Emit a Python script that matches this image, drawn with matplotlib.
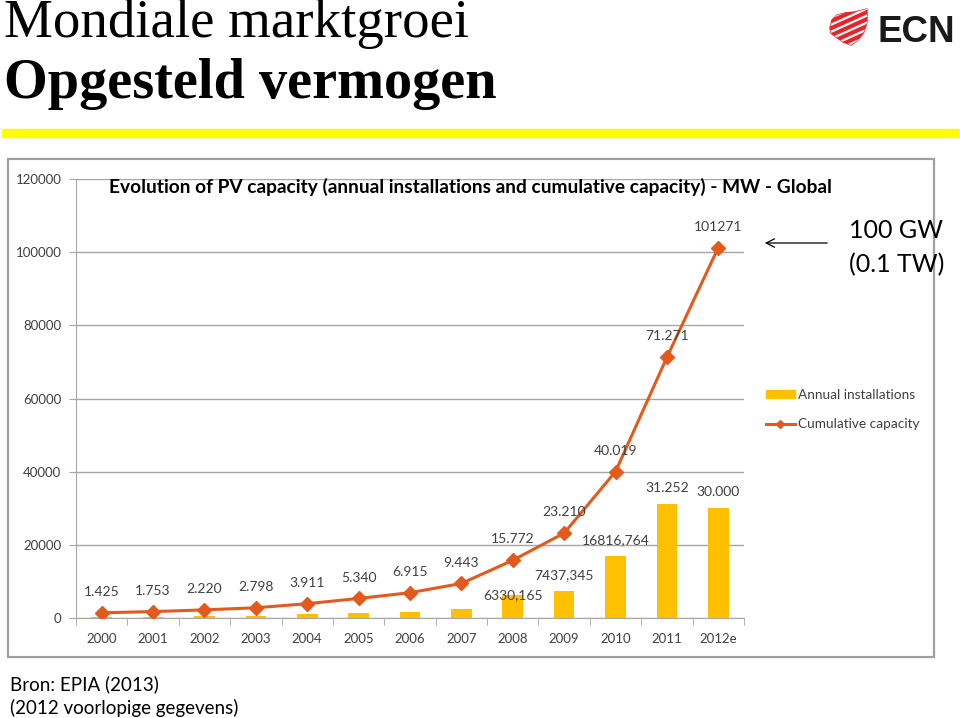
import matplotlib
matplotlib.use("Agg")
import matplotlib.pyplot as plt
import numpy as np
from matplotlib.patches import Rectangle, Polygon
from matplotlib.lines import Line2D

# data (MW)
years = ["2000", "2001", "2002", "2003", "2004", "2005", "2006",
         "2007", "2008", "2009", "2010", "2011", "2012e"]
annual = [270, 328, 467, 578, 1113, 1429, 1575,
          2528, 6330.165, 7437.345, 16816.764, 31252, 30000]
cumulative = [1425, 1753, 2220, 2798, 3911, 5340, 6915,
              9443, 15772, 23210, 40019, 71271, 101271]
cum_labels = ["1.425", "1.753", "2.220", "2.798", "3.911", "5.340", "6.915",
              "9.443", "15.772", "23.210", "40.019", "71.271", "101271"]
bar_labels = ["", "", "", "", "", "", "",
              "", "6330,165", "7437,345", "16816,764", "31.252", "30.000"]
yticks = [0, 20000, 40000, 60000, 80000, 100000, 120000]

W, H = 960, 718
bar_col = "#FFC000"
line_col = "#E35A1D"
grid_col = "#A6A6A6"
txt_col = "#404040"
font = "Lato"


def fx(x):
    return x / W


def fy(y):
    return 1 - y / H


fig = plt.figure(figsize=(W / 100, H / 100), dpi=100)
fig.patch.set_facecolor("white")

# slide header
fig.text(fx(4), fy(37), "Mondiale marktgroei", family="Liberation Serif",
         fontsize=39.5, va="baseline", ha="left", color="black")
fig.text(fx(4), fy(98), "Opgesteld vermogen", family="Liberation Serif",
         fontsize=40.5, fontweight="bold", va="baseline", ha="left", color="black")
fig.patches.append(Rectangle((fx(2), fy(137)), fx(958) - fx(2), fy(129) - fy(137),
                             transform=fig.transFigure, color="#FFFF00", zorder=1))

# ECN logo
lax = fig.add_axes([fx(826), fy(48), fx(46), 44 / H])
lax.set_xlim(826, 872)
lax.set_ylim(48, 4)
lax.axis("off")
shield = Polygon([(830, 28), (832, 20), (837, 15), (845, 13), (855, 12), (867, 9),
                  (867, 22), (864, 32), (858, 40), (851, 45), (843, 42),
                  (836, 37), (831, 33)], closed=True, color="#E8242B")
lax.add_patch(shield)
for c in [20, 27, 34, 41, 48, 55]:
    xs = np.array([826, 872])
    ln, = lax.plot(xs, c - 0.45 * (xs - 826), color="white", lw=1.6)
    ln.set_clip_path(shield)
fig.text(fx(877), fy(42), "ECN", family="Liberation Sans", fontweight="bold",
         fontsize=26.5, color="#1A1A1A", va="baseline", ha="left")

# chart frame
fig.patches.append(Rectangle((fx(8), fy(657)), fx(934) - fx(8), fy(159) - fy(657),
                             transform=fig.transFigure, fill=False,
                             edgecolor="#A0A0A0", lw=1.6, zorder=1))

ax = fig.add_axes([fx(76), fy(618), fx(744) - fx(76), fy(179) - fy(618)])
x = np.arange(len(years))
ax.bar(x, annual, width=0.4, color=bar_col, zorder=2, label="Annual installations")
ax.plot(x, cumulative, color=line_col, lw=2.2, marker="D", markersize=7.5,
        zorder=3, label="Cumulative capacity")

for xi, v, s in zip(x, cumulative, cum_labels):
    ax.annotate(s, (xi, v), xytext=(0, 15), textcoords="offset points",
                ha="center", va="center", fontsize=10, family=font, color=txt_col)
for xi, v, s in zip(x, annual, bar_labels):
    if s:
        off = 0 if xi == 8 else 11.5
        ax.annotate(s, (xi, v), xytext=(0, off), textcoords="offset points",
                    ha="center", va="center", fontsize=10, family=font, color=txt_col)

ax.set_xlim(-0.5, len(years) - 0.5)
ax.set_ylim(0, 120000)
ax.set_yticks(yticks)
ax.set_yticklabels([str(t) for t in yticks], family=font, fontsize=9.5, color=txt_col)
ax.set_xticks(x)
ax.set_xticklabels(years, family=font, fontsize=9.5, color=txt_col)
ax.set_xticks(np.arange(-0.5, len(years), 1), minor=True)
ax.tick_params(axis="x", which="major", length=0, pad=11)
ax.tick_params(axis="x", which="minor", length=5, color=grid_col)
ax.tick_params(axis="y", length=5, color=grid_col, pad=5.5)
ax.yaxis.grid(True, color=grid_col, lw=1)
ax.set_axisbelow(True)
for sp in ["top", "right"]:
    ax.spines[sp].set_visible(False)
for sp in ["left", "bottom"]:
    ax.spines[sp].set_color(grid_col)

fig.text(fx(109), fy(187), "Evolution of PV capacity (annual installations and cumulative "
         "capacity) - MW - Global", family=font, fontweight="bold", fontsize=13.8,
         ha="left", va="center", color="black")

handles = [Rectangle((0, 0), 1, 1, color=bar_col),
           Line2D([0], [0], color=line_col, lw=2.2, marker="D", markersize=4)]
fig.legend(handles, ["Annual installations", "Cumulative capacity"],
           loc="upper left", bbox_to_anchor=(fx(766), fy(389)), frameon=False,
           prop={"family": font, "size": 9.8}, handlelength=2.1, handleheight=0.55,
           handletextpad=0.25, labelspacing=1.25, borderpad=0, borderaxespad=0,
           labelcolor=txt_col)

# annotation
fig.text(fx(849), fy(231), "100 GW", family=font, fontsize=18, ha="left", va="center")
fig.text(fx(849), fy(265), "(0.1 TW)", family=font, fontsize=18, ha="left", va="center")
fig.add_artist(matplotlib.patches.FancyArrowPatch(
    (fx(830), fy(243)), (fx(762), fy(243)), transform=fig.transFigure,
    arrowstyle="->,head_length=6,head_width=3", color="black", lw=0.9))

# source
fig.text(fx(10), fy(684), "Bron: EPIA (2013)", family=font, fontsize=13.5,
         ha="left", va="center")
fig.text(fx(10), fy(708), "(2012 voorlopige gegevens)", family=font, fontsize=13.5,
         ha="left", va="center")

fig.savefig("out.png", dpi=100)
